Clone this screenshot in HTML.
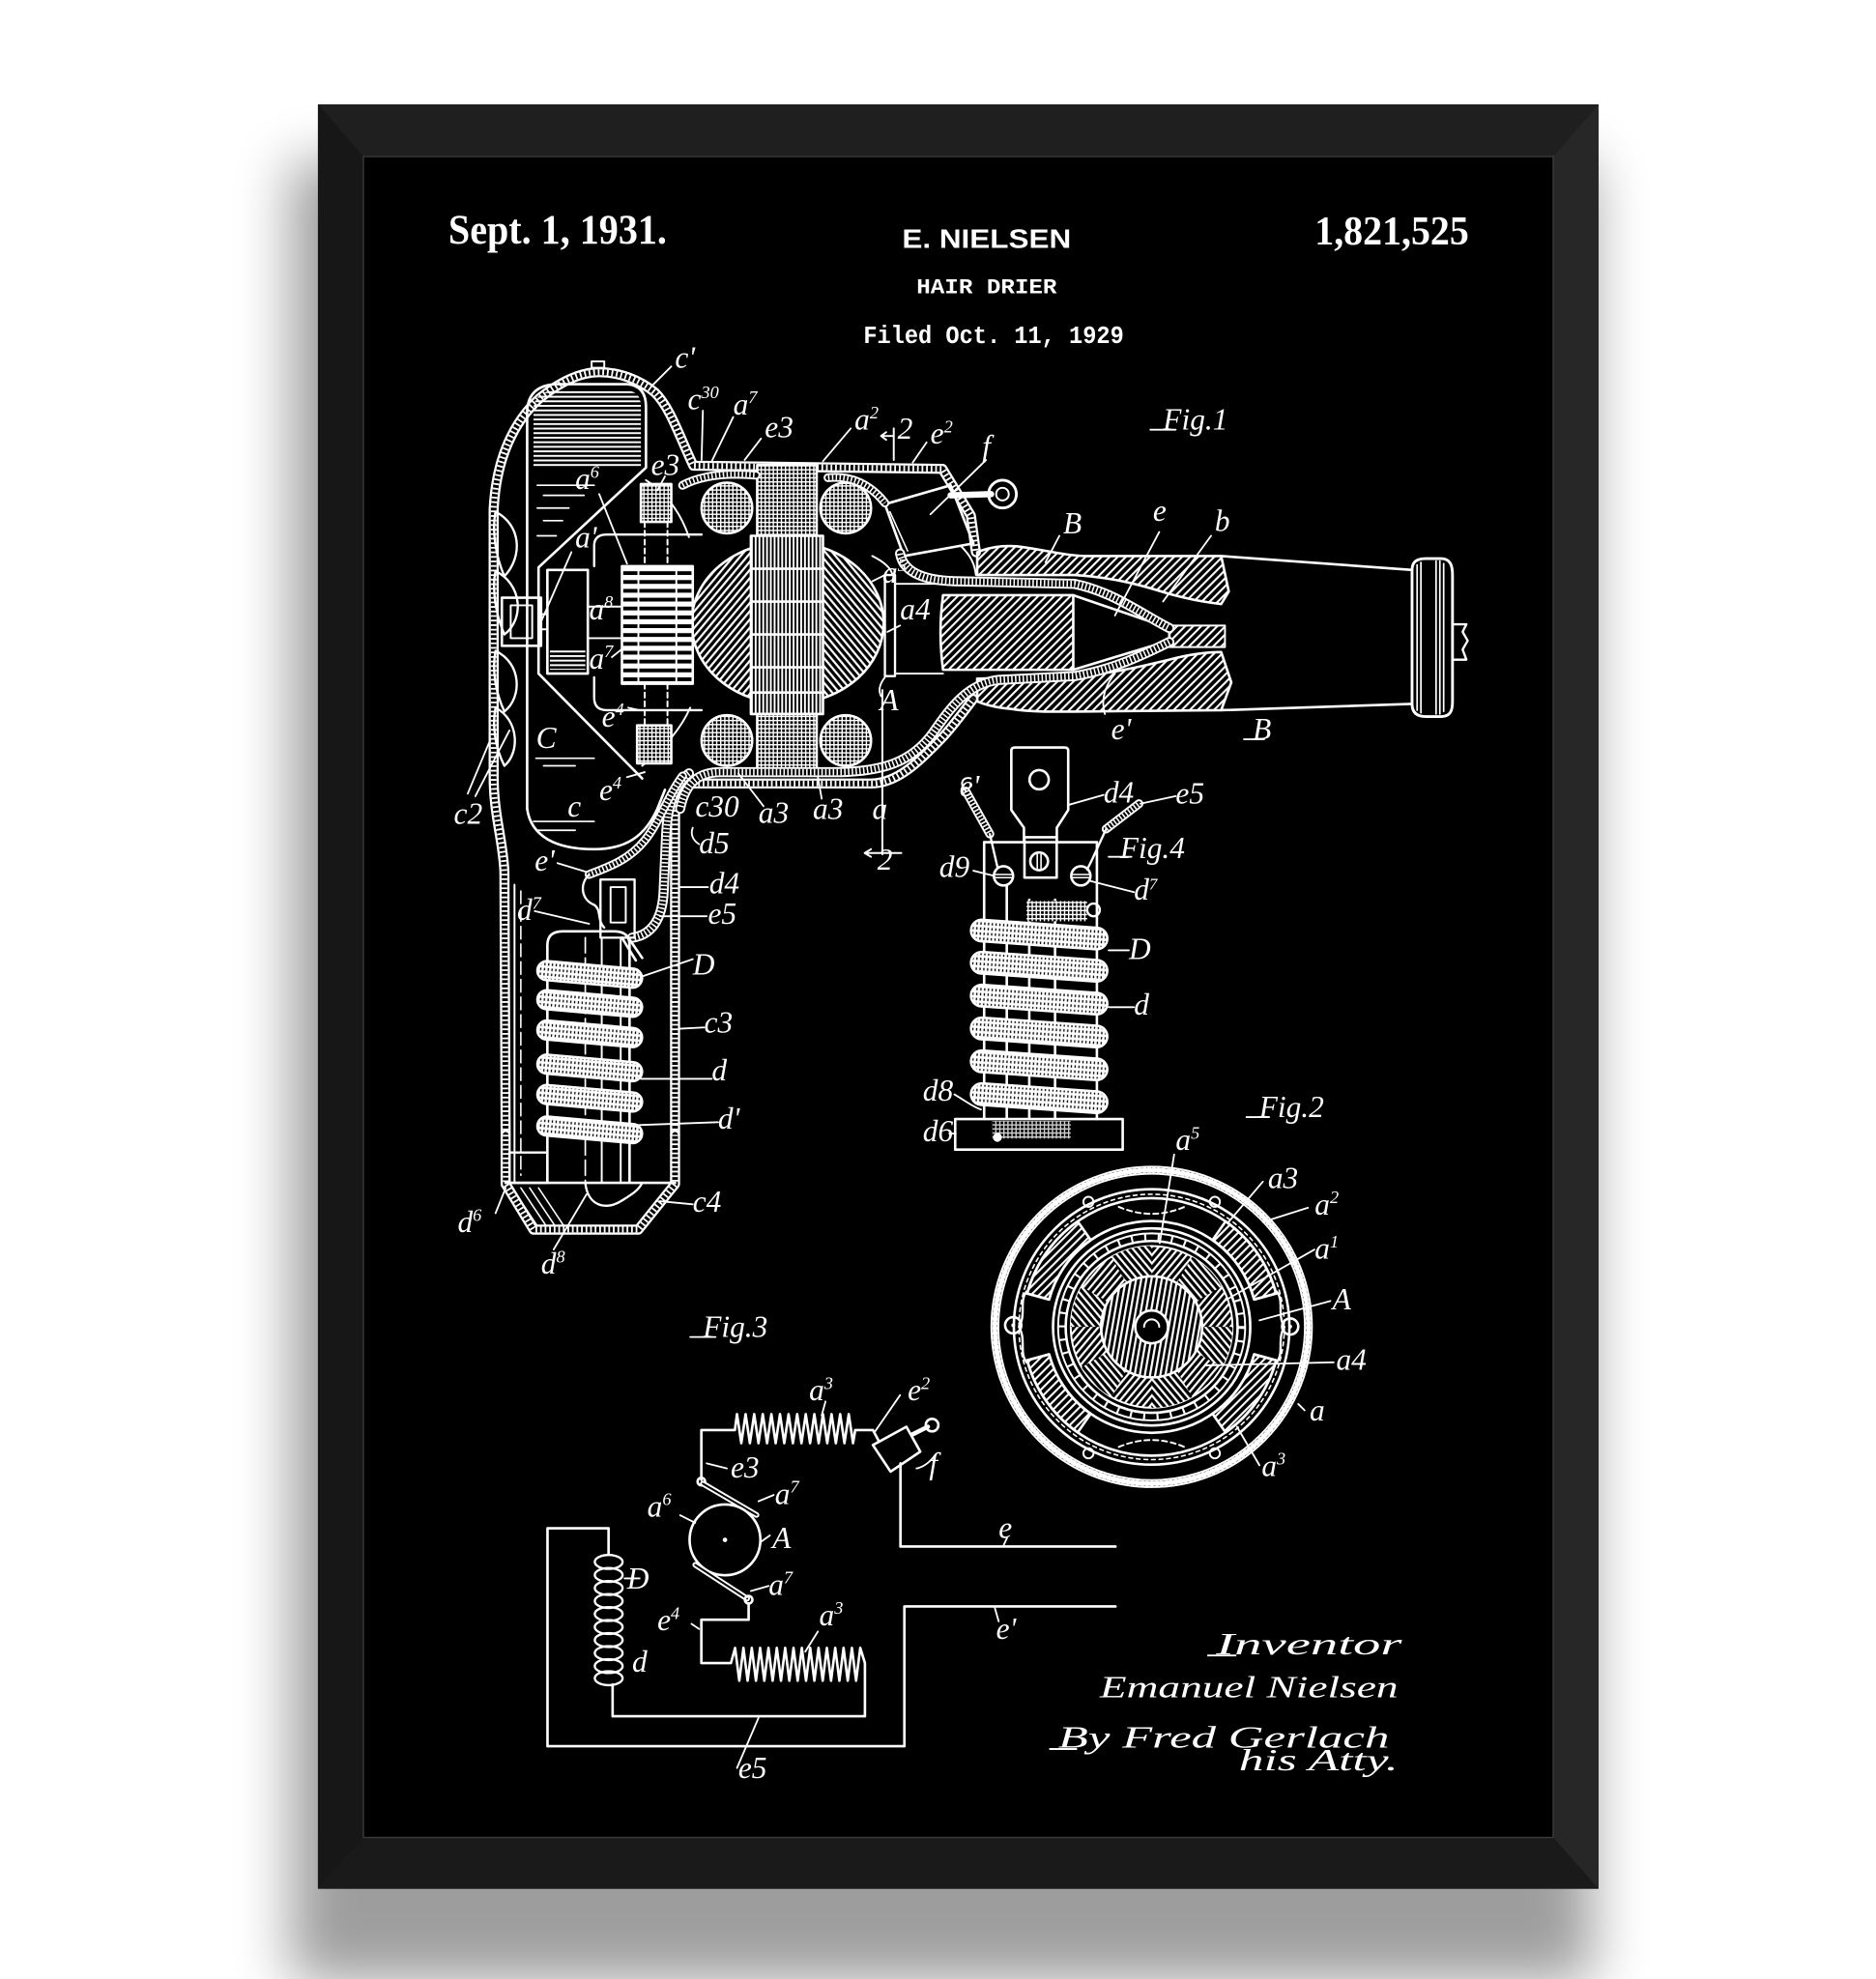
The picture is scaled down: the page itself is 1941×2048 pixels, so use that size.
<!DOCTYPE html>
<html><head><meta charset="utf-8">
<style>
html,body{margin:0;padding:0;background:#fff}
svg{display:block}
.lab text{font-family:"Liberation Serif",serif;font-style:italic;font-size:24px;fill:#fff}
.hd text{fill:#fff}
</style></head>
<body>
<svg width="1941" height="2048" viewBox="0 0 1484 1566" preserveAspectRatio="none" xmlns="http://www.w3.org/2000/svg" xmlns:xlink="http://www.w3.org/1999/xlink">
<defs>
 <filter id="sh" x="-20%" y="-20%" width="140%" height="140%"><feGaussianBlur stdDeviation="22"/></filter>
 <pattern id="hh" width="8" height="3.6" patternUnits="userSpaceOnUse"><rect width="8" height="1.5" fill="#fff"/></pattern>
 <pattern id="hv" width="3" height="8" patternUnits="userSpaceOnUse"><rect width="3" height="8" fill="#000"/><rect width="1.5" height="8" fill="#fff"/></pattern>
 <pattern id="hd" width="4.5" height="4.5" patternUnits="userSpaceOnUse" patternTransform="rotate(45)"><rect width="1.6" height="4.5" fill="#fff"/></pattern>
 <pattern id="hdB" width="4.2" height="4.2" patternUnits="userSpaceOnUse" patternTransform="rotate(40)"><rect width="4.2" height="4.2" fill="#000"/><rect width="1.7" height="4.2" fill="#fff"/></pattern>
 <pattern id="hd2B" width="4.2" height="4.2" patternUnits="userSpaceOnUse" patternTransform="rotate(-40)"><rect width="4.2" height="4.2" fill="#000"/><rect width="1.7" height="4.2" fill="#fff"/></pattern>
 <pattern id="hd3B" width="4" height="4" patternUnits="userSpaceOnUse" patternTransform="rotate(10)"><rect width="4" height="4" fill="#000"/><rect width="1.7" height="4" fill="#fff"/></pattern>
 <pattern id="grid" width="3.2" height="3.2" patternUnits="userSpaceOnUse"><rect width="3.2" height="3.2" fill="#000"/><rect width="3.2" height="1.1" fill="#fff"/><rect width="1.1" height="3.2" fill="#fff"/></pattern>
 <pattern id="coil" width="3" height="4" patternUnits="userSpaceOnUse"><rect width="3" height="4" fill="#fff"/><rect x="1" y="1" width="1" height="2" fill="#000"/></pattern>
 <pattern id="hbar" width="10" height="7" patternUnits="userSpaceOnUse"><rect width="10" height="7" fill="#000"/><rect width="10" height="4" fill="#fff"/></pattern>

 <path id="wE" d="M 712,438 C 715,455 735,460 760,460 L 850,462 C 880,468 905,487 925,497"/>
 <path id="wE1" d="M 925,508 C 905,518 880,530 850,535 L 790,538 C 765,541 752,560 738,580 C 722,602 700,611 660,611 L 570,611 C 552,611 542,620 538,640"/>
 <path id="wA" d="M 545,612 C 532,622 528,640 527,660 L 525,705 C 524,728 515,740 500,742"/>
 <path id="wB" d="M 540,614 C 528,630 522,650 510,665 C 498,680 482,686 466,692"/>
 <path id="wT" d="M 540,384 C 555,376 575,374 598,376"/>
 <path id="wT2" d="M 655,378 C 675,376 690,385 700,398"/>
 <path id="shell" d="M 400,898 L 399,690 C 398,665 390.5,645 390.5,615 L 390.5,403 C 392.5,362 407,333 427,315 C 442,303 458.5,294.5 474,294.5 C 490.5,294.5 506.5,301 518,310.5 C 530,322 538,346.5 548.5,368.5 L 745.5,371 L 768,408 L 772,437"/>
 <path id="shell2" d="M 534,898 L 534,632 Q 534,620 546,620 L 689,620 C 710,620 728,602 746,583 C 756,572 763,562 770,553"/>
 <path id="cap" d="M 400,898 L 400,937 L 422,973 L 505,973 L 534,937 L 534,898"/>
 <path id="w4a" d="M 764,626 L 783,660"/>
 <path id="w4b" d="M 875,656 L 901,636"/>
</defs>

<!-- background & shadow -->
<rect x="0" y="0" width="1484" height="1566" fill="#fff"/>
<rect x="230" y="128" width="1030" height="1440" fill="#000" opacity="0.38" filter="url(#sh)"/>

<!-- frame -->
<rect x="251.5" y="82.6" width="1013" height="1412" fill="#1b1b1b"/>
<polygon points="251.5,82.6 1264.5,82.6 1228.6,123.9 287.5,123.9" fill="#1f1f1f"/>
<polygon points="251.5,82.6 287.5,123.9 287.5,1454 251.5,1494.6" fill="#171717"/>
<polygon points="1264.5,82.6 1264.5,1494.6 1228.6,1454 1228.6,123.9" fill="#272727"/>
<polygon points="251.5,1494.6 1264.5,1494.6 1228.6,1454 287.5,1454" fill="#1a1a1a"/>
<rect x="287.5" y="123.9" width="941.1" height="1330.1" fill="#000" stroke="#3c3c3c" stroke-width="1"/>

<!-- header -->
<g class="hd">
<text x="354.7" y="192.7" font-family="Liberation Serif, serif" font-weight="bold" font-size="33" textLength="172.8" lengthAdjust="spacingAndGlyphs">Sept. 1, 1931.</text>
<text x="1040" y="193.6" font-family="Liberation Serif, serif" font-weight="bold" font-size="32" textLength="122" lengthAdjust="spacingAndGlyphs">1,821,525</text>
<text x="713.6" y="196.2" font-family="Liberation Sans, sans-serif" font-weight="bold" font-size="21.4" textLength="133.7" lengthAdjust="spacingAndGlyphs">E. NIELSEN</text>
<text x="725" y="231.9" font-family="Liberation Mono, monospace" font-weight="bold" font-size="17" textLength="111" lengthAdjust="spacingAndGlyphs">HAIR DRIER</text>
<text x="683" y="271.4" font-family="Liberation Mono, monospace" font-weight="bold" font-size="19.5" textLength="206" lengthAdjust="spacingAndGlyphs">Filed Oct. 11, 1929</text>
</g>

<!-- ================= FIG 1 ================= -->
<g fill="none" stroke="#fff" stroke-linecap="round" stroke-linejoin="round">
 <use xlink:href="#shell" stroke-width="8"/>
 <use xlink:href="#shell" stroke="#000" stroke-width="4.5"/>
 <use xlink:href="#shell" stroke-width="4.5" stroke-dasharray="1.4 2.2" stroke-linecap="butt"/>
 <use xlink:href="#shell2" stroke-width="8"/>
 <use xlink:href="#shell2" stroke="#000" stroke-width="4.5"/>
 <use xlink:href="#shell2" stroke-width="4.5" stroke-dasharray="1.4 2.2" stroke-linecap="butt"/>
 <use xlink:href="#cap" stroke-width="8"/>
 <use xlink:href="#cap" stroke="#000" stroke-width="4.5"/>
 <use xlink:href="#cap" stroke-width="4.5" stroke-dasharray="1.4 2.2" stroke-linecap="butt"/>
 <rect x="468" y="286" width="10" height="5" stroke-width="1.5"/>

 <g stroke-width="1.8">
  <path d="M 392,405 C 412,415 414,440 399,456 C 392,440 389,420 392,405 Z"/>
  <path d="M 392,452 C 413,462 415,490 399,502 C 392,486 389,466 392,452 Z"/>
  <path d="M 392,515 C 413,525 413,552 399,563 C 392,548 389,530 392,515 Z"/>
  <path d="M 392,560 C 411,570 411,596 399,606 C 392,592 389,575 392,560 Z"/>
 </g>
 <rect x="397" y="473" width="31" height="38" stroke-width="2"/>
 <rect x="404" y="479" width="17" height="26" stroke-width="1.5"/>
 <line x1="428" y1="486" x2="433" y2="486" stroke-width="1.5"/>
 <line x1="428" y1="498" x2="433" y2="498" stroke-width="1.5"/>

 <path d="M 422,370 L 422,322 Q 424,309 440,309 L 495,309 Q 507,309 507,322 L 507,370 Z" fill="url(#hh)" stroke="none"/>
 <path d="M 417,640 L 417,325 Q 418,305 440,304 L 496,304 Q 511,305 511,322 L 511,370 L 426,449 L 426,533 L 508,616" stroke-width="2"/>
 <path d="M 417,640 C 420,662 440,672 470,672 C 495,672 510,662 520,640 L 526,625" stroke-width="2"/>
 <g stroke-width="1.3">
  <line x1="425" y1="384" x2="470" y2="384"/><line x1="430" y1="392" x2="462" y2="392"/>
  <line x1="425" y1="402" x2="450" y2="402"/><line x1="430" y1="412" x2="445" y2="412"/>
  <line x1="425" y1="424" x2="440" y2="424"/>
  <line x1="424" y1="600" x2="470" y2="600"/><line x1="430" y1="606" x2="455" y2="606"/>
  <line x1="422" y1="650" x2="470" y2="650"/><line x1="425" y1="657" x2="455" y2="657"/>
 </g>

 <rect x="433" y="451" width="32" height="82" stroke-width="2"/>
 <rect x="435" y="514" width="28" height="16" fill="url(#hh)" stroke="none"/>
 <line x1="465" y1="480" x2="492" y2="480" stroke-width="1.5"/>
 <line x1="465" y1="505" x2="492" y2="505" stroke-width="1.5"/>
 <path d="M 470,448 L 470,432 Q 470,423 480,423 L 555,423" stroke-width="1.8"/>
 <path d="M 470,536 L 470,552 Q 470,562 480,562 L 555,562" stroke-width="1.8"/>
 <path d="M 511,380 C 530,392 540,410 545,425" stroke-width="1.5"/>
 <path d="M 508,606 C 525,592 538,578 546,560" stroke-width="1.5"/>

 <path d="M 623,429 A 76 64 0 0 0 623,557 Z" fill="url(#hdB)" stroke-width="2"/>
 <path d="M 623,429 A 76 64 0 0 1 623,557 Z" fill="url(#hd2B)" stroke-width="2"/>

 <rect x="492" y="448" width="56" height="93" fill="url(#hbar)" stroke-width="2"/>
 <line x1="505" y1="448" x2="505" y2="541" stroke-width="1.5"/>
 <line x1="535" y1="448" x2="535" y2="541" stroke-width="1.5"/>

 <rect x="507" y="383" width="24" height="30" fill="url(#grid)" stroke-width="2"/>
 <rect x="504" y="574" width="27" height="30" fill="url(#grid)" stroke-width="2"/>
 <line x1="510" y1="413" x2="510" y2="448" stroke-width="1.5" stroke-dasharray="4 3"/>
 <line x1="528" y1="413" x2="528" y2="448" stroke-width="1.5" stroke-dasharray="4 3"/>
 <line x1="510" y1="541" x2="510" y2="574" stroke-width="1.5" stroke-dasharray="4 3"/>
 <line x1="528" y1="541" x2="528" y2="574" stroke-width="1.5" stroke-dasharray="4 3"/>

 <rect x="599" y="368" width="47" height="56" fill="url(#grid)" stroke-width="2"/>
 <rect x="594" y="424" width="57" height="141" fill="url(#hv)" stroke-width="2"/>
 <rect x="599" y="565" width="47" height="47" fill="url(#grid)" stroke-width="2"/>
 <g stroke-width="2">
  <line x1="594" y1="450" x2="651" y2="450"/><line x1="594" y1="476" x2="651" y2="476"/>
  <line x1="594" y1="502" x2="651" y2="502"/><line x1="594" y1="528" x2="651" y2="528"/>
  <line x1="594" y1="548" x2="651" y2="548"/>
 </g>
 <circle cx="575" cy="402" r="20" fill="url(#grid)" stroke-width="2"/>
 <circle cx="669" cy="402" r="20" fill="url(#grid)" stroke-width="2"/>
 <circle cx="575" cy="586" r="20" fill="url(#grid)" stroke-width="2"/>
 <circle cx="669" cy="586" r="20" fill="url(#grid)" stroke-width="2"/>

 <rect x="700" y="455" width="8" height="80" stroke-width="1.8"/>
 <line x1="708" y1="462" x2="746" y2="462" stroke-width="1.5"/>
 <line x1="708" y1="533" x2="746" y2="533" stroke-width="1.5"/>
 <path d="M 690,440 C 700,445 705,450 706,455" stroke-width="1.5"/>
 <path d="M 746,471 L 849,471 L 849,530 L 746,530 Q 742,500 746,471 Z" fill="url(#hd)" stroke-width="2"/>
 <path d="M 849,471 L 925,497 L 925,507 L 849,530" stroke-width="2"/>
 <rect x="925" y="495" width="44" height="17" fill="url(#hd)" stroke-width="1.5"/>

 <path d="M 773,437 C 785,432 797,431 810,433 C 830,436 845,440 860,440 L 966,440 L 972,468 L 966,478 C 950,476 940,474 925,470 C 900,462 880,457 850,455 L 773,455 Z" fill="url(#hd)" stroke-width="2"/>
 <path d="M 773,537 L 850,535 C 880,533 900,528 925,522 C 940,518 955,516 966,516 L 974,540 L 966,562 L 860,563 C 840,563 820,564 800,561 C 788,560 780,558 773,555 Z" fill="url(#hd)" stroke-width="2"/>
 <path d="M 966,440 L 1117,451" stroke-width="2"/>
 <path d="M 966,562 L 1117,557" stroke-width="2"/>
 <path d="M 1117,451 C 1117,445 1120,442 1128,442 L 1140,442 C 1147,442 1149,447 1149,455 L 1149,555 C 1149,563 1147,567 1140,567 L 1128,567 C 1120,567 1117,563 1117,557 Z" stroke-width="2.2"/>
 <g stroke-width="1.3"><line x1="1121" y1="447" x2="1121" y2="562"/><line x1="1124" y1="445" x2="1124" y2="564"/><line x1="1136" y1="444" x2="1136" y2="565"/><line x1="1139" y1="444" x2="1139" y2="565"/><line x1="1142" y1="446" x2="1142" y2="563"/></g>
 <path d="M 1149,494 L 1160,494 L 1157,500 L 1161,507 L 1157,514 L 1160,522 L 1149,522" stroke-width="1.8"/>

 <path d="M 700,399 L 752,384 L 770,430 L 715,440 Z" stroke-width="2"/>
 <path d="M 704,405 L 718,436" stroke-width="1.2"/>
 <line x1="752" y1="392" x2="784" y2="391" stroke-width="5"/>
 <circle cx="793" cy="391" r="11" stroke-width="2.2"/>
 <circle cx="793" cy="391" r="5" stroke-width="1.5"/>
 <path d="M 760,432 C 768,440 771,446 772,455" stroke-width="1.5"/>

 <use xlink:href="#wE" stroke-width="8"/><use xlink:href="#wE" stroke="#000" stroke-width="5"/><use xlink:href="#wE" stroke-width="5" stroke-dasharray="1.2 1.8" stroke-linecap="butt"/>
 <use xlink:href="#wE1" stroke-width="8"/><use xlink:href="#wE1" stroke="#000" stroke-width="5"/><use xlink:href="#wE1" stroke-width="5" stroke-dasharray="1.2 1.8" stroke-linecap="butt"/>
 <use xlink:href="#wA" stroke-width="8"/><use xlink:href="#wA" stroke="#000" stroke-width="5"/><use xlink:href="#wA" stroke-width="5" stroke-dasharray="1.2 1.8" stroke-linecap="butt"/>
 <use xlink:href="#wB" stroke-width="7"/><use xlink:href="#wB" stroke="#000" stroke-width="4"/><use xlink:href="#wB" stroke-width="4" stroke-dasharray="1.2 1.8" stroke-linecap="butt"/>
 <use xlink:href="#wT" stroke-width="7"/><use xlink:href="#wT" stroke="#000" stroke-width="4"/><use xlink:href="#wT" stroke-width="4" stroke-dasharray="1.2 1.8" stroke-linecap="butt"/>
 <use xlink:href="#wT2" stroke-width="7"/><use xlink:href="#wT2" stroke="#000" stroke-width="4"/><use xlink:href="#wT2" stroke-width="4" stroke-dasharray="1.2 1.8" stroke-linecap="butt"/>

 <line x1="407" y1="700" x2="407" y2="935" stroke-width="1.5"/>
 <line x1="412" y1="705" x2="412" y2="930" stroke-width="1.2" stroke-dasharray="10 4"/>
 <line x1="400" y1="936" x2="534" y2="936" stroke-width="2"/>
 <rect x="403" y="912" width="30" height="24" stroke-width="1.8"/>
 <path d="M 405,940 L 425,970 M 412,940 L 432,970 M 419,940 L 439,970 M 426,940 L 446,970" stroke-width="1.2"/>
 <path d="M 433,935 L 433,748 Q 433,737 445,737 L 486,737 Q 498,737 498,748 L 498,935" stroke-width="2"/>
 <line x1="463" y1="742" x2="463" y2="935" stroke-width="1.3" stroke-dasharray="12 4"/>
 <line x1="476" y1="742" x2="476" y2="935" stroke-width="1.5"/>
 <line x1="491" y1="742" x2="491" y2="935" stroke-width="1.5"/>
 <path d="M 463,936 C 465,955 480,958 492,950 C 500,945 505,942 508,936" stroke-width="1.8"/>
 <rect x="475" y="696" width="27" height="46" stroke-width="1.8"/>
 <rect x="483" y="702" width="12" height="28" stroke-width="1.5"/>
 <path d="M 466,692 C 458,700 460,712 470,716 C 476,720 472,728 478,734" stroke-width="1.8"/>
 <path d="M 492,742 L 503,760 M 497,742 L 508,758" stroke-width="2"/>

 <g fill="url(#coil)" stroke-width="2">
  <rect x="425" y="763.5" width="83" height="15" rx="7.5" transform="rotate(5 466 771)"/>
  <rect x="425" y="786.5" width="83" height="15" rx="7.5" transform="rotate(5 466 794)"/>
  <rect x="425" y="810.5" width="83" height="15" rx="7.5" transform="rotate(5 466 818)"/>
  <rect x="425" y="837.5" width="83" height="15" rx="7.5" transform="rotate(5 466 845)"/>
  <rect x="425" y="861.5" width="83" height="15" rx="7.5" transform="rotate(5 466 869)"/>
  <rect x="425" y="886.5" width="83" height="15" rx="7.5" transform="rotate(5 466 894)"/>
 </g>

 <line x1="707" y1="339" x2="707" y2="364" stroke-width="1.5"/>
 <path d="M 707,345 L 697,345 M 697,345 L 701,342 M 697,345 L 701,348" stroke-width="1.5"/>
 <line x1="698" y1="546" x2="698" y2="676" stroke-width="1.5"/>
 <path d="M 684,675 L 713,675 M 684,675 L 689,672 M 684,675 L 689,678" stroke-width="1.5"/>

 <g stroke-width="1.4">
  <path d="M 531,290 L 515,306"/><path d="M 556,325 L 555,364"/><path d="M 580,330 L 563,365"/>
  <path d="M 602,347 L 589,364"/><path d="M 673,339 L 651,365"/><path d="M 733,350 L 722,366"/>
  <path d="M 780,364 L 736,407"/><path d="M 526,377 L 520,388"/><path d="M 474,391 L 496,446"/>
  <path d="M 452,437 L 428,492"/><path d="M 484,520 L 494,512"/>
  <path d="M 838,424 L 827,445"/><path d="M 917,421 L 882,487"/><path d="M 958,424 L 920,476"/>
  <path d="M 874,565 C 870,552 876,540 882,533"/><path d="M 984,585 L 1000,585"/>
  <path d="M 370,628 L 388,585"/><path d="M 376,630 L 403,578"/>
  <path d="M 604,638 L 584,612"/><path d="M 650,632 L 647,615"/>
  <path d="M 700,455 L 690,460"/><path d="M 712,495 L 702,500"/>
  <path d="M 697,551 C 694,545 697,540 700,536"/>
  <path d="M 496,615 L 510,611"/><path d="M 497,560 L 506,562"/>
  <path d="M 553,668 C 548,665 546,660 548,655"/>
  <path d="M 548,759 L 507,773"/><path d="M 557,813 L 538,814"/><path d="M 563,853.7 L 507,853.7"/>
  <path d="M 568,888 L 497,890.6"/><path d="M 548,953 L 522,950.5"/><path d="M 392,960 L 400,940"/>
  <path d="M 438,988.7 L 464,945"/><path d="M 559,725 L 522,725"/><path d="M 560,702 L 537,702"/>
  <path d="M 423,721 L 466,731"/><path d="M 441,683 L 464,690"/>
  <path d="M 910,340 L 930,340"/>
 </g>
</g>

<g class="lab">
 <text x="534" y="291">c'</text>
 <text x="544" y="324">c<tspan font-size="14" dy="-9">30</tspan></text>
 <text x="580" y="328">a<tspan font-size="14" dy="-9">7</tspan></text>
 <text x="605" y="346">e3</text>
 <text x="676" y="340">a<tspan font-size="14" dy="-9">2</tspan></text>
 <text x="710" y="347" font-size="13">2</text>
 <text x="736" y="351">e<tspan font-size="14" dy="-9">2</tspan></text>
 <text x="777" y="361" font-size="28">f</text>
 <text x="515" y="376">e3</text>
 <text x="455" y="387">a<tspan font-size="14" dy="-9">6</tspan></text>
 <text x="455" y="433">a'</text>
 <text x="466" y="490">a<tspan font-size="14" dy="-9">8</tspan></text>
 <text x="466" y="529">a<tspan font-size="14" dy="-9">7</tspan></text>
 <text x="476" y="575">e<tspan font-size="14" dy="-9">4</tspan></text>
 <text x="424" y="592" font-size="30">C</text>
 <text x="474" y="633">e<tspan font-size="14" dy="-9">4</tspan></text>
 <text x="449" y="646">c</text>
 <text x="359" y="652">c2</text>
 <text x="550" y="646">c30</text>
 <text x="600" y="651">a3</text>
 <text x="643" y="648">a3</text>
 <text x="690" y="648">a</text>
 <text x="694" y="688" font-size="13">2</text>
 <text x="698" y="461">a<tspan font-size="14" dy="-9">5</tspan></text>
 <text x="712" y="490">a4</text>
 <text x="696" y="562">A</text>
 <text x="841" y="422" font-size="26">B</text>
 <text x="912" y="412">e</text>
 <text x="961" y="420">b</text>
 <text x="879" y="585">e'</text>
 <text x="991" y="585" font-size="26">B</text>
 <text x="920" y="340" font-size="36">Fig.1</text>
 <text x="423" y="689">e'</text>
 <text x="409" y="728">d<tspan font-size="14" dy="-9">7</tspan></text>
 <text x="553" y="675">d5</text>
 <text x="561" y="707">d4</text>
 <text x="560" y="731">e5</text>
 <text x="548" y="771" font-size="26">D</text>
 <text x="557" y="817">c3</text>
 <text x="563" y="855">d</text>
 <text x="568" y="893">d'</text>
 <text x="548" y="959">c4</text>
 <text x="362" y="975">d<tspan font-size="14" dy="-9">6</tspan></text>
 <text x="428" y="1008">d<tspan font-size="14" dy="-9">8</tspan></text>
</g>

<!-- ================= FIG 4 ================= -->
<g fill="none" stroke="#fff" stroke-linecap="round" stroke-linejoin="round">
 <path d="M 810,666 L 810,655 L 800,641 L 800,594 Q 800,591.5 803,591.5 L 842,591.5 Q 845,591.5 845,594 L 845,641 L 836,655 L 836,666" stroke-width="2"/>
 <circle cx="822" cy="617" r="7.6" stroke-width="2"/>
 <line x1="778.5" y1="666.4" x2="867.7" y2="666.4" stroke-width="2"/>
 <line x1="778.5" y1="666.4" x2="778.5" y2="885.5" stroke-width="2"/>
 <line x1="867.7" y1="666.4" x2="867.7" y2="885.5" stroke-width="2"/>
 <rect x="810.4" y="662.5" width="25.5" height="31.9" stroke-width="2"/>
 <circle cx="822" cy="681.6" r="7" stroke-width="2"/>
 <line x1="820.5" y1="676" x2="820.5" y2="687" stroke-width="1.2"/><line x1="823.5" y1="676" x2="823.5" y2="687" stroke-width="1.2"/>
 <circle cx="793.8" cy="693.1" r="7.6" stroke-width="2"/>
 <line x1="787" y1="692" x2="800.6" y2="692" stroke-width="1.2"/><line x1="787" y1="694.5" x2="800.6" y2="694.5" stroke-width="1.2"/>
 <circle cx="855" cy="693.1" r="7.6" stroke-width="2"/>
 <line x1="848" y1="692" x2="862" y2="692" stroke-width="1.2"/><line x1="848" y1="694.5" x2="862" y2="694.5" stroke-width="1.2"/>
 <line x1="796.4" y1="701" x2="796.4" y2="885" stroke-width="2"/>
 <line x1="814.2" y1="712" x2="814.2" y2="885" stroke-width="2"/>
 <line x1="834.6" y1="712" x2="834.6" y2="885" stroke-width="2"/>
 <rect x="812" y="713" width="48" height="16" fill="url(#grid)" stroke="none"/>
 <circle cx="865" cy="720" r="5" stroke-width="1.8"/>
 <use xlink:href="#w4a" stroke-width="7"/><use xlink:href="#w4a" stroke="#000" stroke-width="4"/><use xlink:href="#w4a" stroke-width="4" stroke-dasharray="1.2 1.6" stroke-linecap="butt"/>
 <use xlink:href="#w4b" stroke-width="7"/><use xlink:href="#w4b" stroke="#000" stroke-width="4"/><use xlink:href="#w4b" stroke-width="4" stroke-dasharray="1.2 1.6" stroke-linecap="butt"/>
 <path d="M 783,660 L 789,686" stroke-width="1.8"/>
 <path d="M 875,656 L 864,680 L 860,688" stroke-width="1.8"/>
 <path d="M 764,626 C 758,620 762,614 768,616" stroke-width="1.5"/>
 <g fill="url(#coil)" stroke-width="2">
  <rect x="768" y="731" width="108" height="17" rx="8.5" transform="rotate(4 822 740)"/>
  <rect x="768" y="756.5" width="108" height="17" rx="8.5" transform="rotate(4 822 765)"/>
  <rect x="768" y="782.5" width="108" height="17" rx="8.5" transform="rotate(4 822 791)"/>
  <rect x="768" y="808.5" width="108" height="17" rx="8.5" transform="rotate(4 822 817)"/>
  <rect x="768" y="834.5" width="108" height="17" rx="8.5" transform="rotate(4 822 843)"/>
  <rect x="768" y="860.5" width="108" height="17" rx="8.5" transform="rotate(4 822 869)"/>
 </g>
 <rect x="755.6" y="885.5" width="132.5" height="24.2" stroke-width="2"/>
 <rect x="785" y="887" width="62" height="14" fill="url(#grid)" stroke="none" opacity="0.8"/>
 <circle cx="789" cy="900" r="3" fill="#fff"/>
 <g stroke-width="1.4">
  <path d="M 873,629 L 845,637"/><path d="M 930,630 L 902,636"/><path d="M 770,689 L 786,693"/>
  <path d="M 897,706 L 862,697"/><path d="M 893,752 L 877,752"/><path d="M 897,797 L 877,797"/>
  <path d="M 755,866 C 765,872 770,876 776,878"/><path d="M 751,897 L 756,897"/>
  <path d="M 877,678 L 895,678"/>
 </g>
</g>
<g class="lab">
 <text x="759" y="630" font-size="22">e'</text>
 <text x="873" y="635" font-size="22">d4</text>
 <text x="930" y="636" font-size="22">e5</text>
 <text x="886" y="679" font-size="34">Fig.4</text>
 <text x="743" y="694" font-size="22">d9</text>
 <text x="897" y="712" font-size="22">d<tspan font-size="13" dy="-8">7</tspan></text>
 <text x="893" y="759" font-size="26">D</text>
 <text x="897" y="803">d</text>
 <text x="730" y="871" font-size="22">d8</text>
 <text x="730" y="903" font-size="22">d6</text>
</g>

<!-- ================= FIG 2 ================= -->
<g fill="none" stroke="#fff" stroke-linecap="round" stroke-linejoin="round">
 <circle cx="911" cy="1050" r="124" stroke-width="7"/>
 <circle cx="911" cy="1050" r="124" stroke="#000" stroke-width="4"/>
 <circle cx="911" cy="1050" r="124" stroke-width="4" stroke-dasharray="1.4 2.4"/>
 <circle cx="911" cy="1050" r="109" stroke-width="2"/>
 <circle cx="911" cy="1050" r="105" stroke-width="1.2" stroke-dasharray="3 3"/>
 <path d="M 812.5,1023.6 A 102 102 0 0 1 1009.5,1023.6 L 992.1,1028.3 A 84 84 0 0 0 829.9,1028.3 Z" stroke-width="2"/>
 <path d="M 1009.5,1076.4 A 102 102 0 0 1 812.5,1076.4 L 829.9,1071.7 A 84 84 0 0 0 992.1,1071.7 Z" stroke-width="2"/>
 <path d="M 812.5,1023.6 A 102 102 0 0 1 852.5,966.5 L 862.8,981.2 A 84 84 0 0 0 829.9,1028.3 Z" fill="url(#hd)" stroke-width="2"/>
 <path d="M 969.5,966.5 A 102 102 0 0 1 1009.5,1023.6 L 992.1,1028.3 A 84 84 0 0 0 959.2,981.2 Z" fill="url(#hd)" stroke-width="2"/>
 <path d="M 1009.5,1076.4 A 102 102 0 0 1 969.5,1133.5 L 959.2,1118.8 A 84 84 0 0 0 992.1,1071.7 Z" fill="url(#hd)" stroke-width="2"/>
 <path d="M 852.5,1133.5 A 102 102 0 0 1 812.5,1076.4 L 829.9,1071.7 A 84 84 0 0 0 862.8,1118.8 Z" fill="url(#hd)" stroke-width="2"/>
 <path d="M 885,955 Q 911,966 937,955" stroke-width="1.5" stroke-dasharray="4 3"/>
 <path d="M 885,1145 Q 911,1134 937,1145" stroke-width="1.5" stroke-dasharray="4 3"/>
 <circle cx="861" cy="951" r="4" stroke-width="1.5"/><circle cx="961" cy="951" r="4" stroke-width="1.5"/>
 <circle cx="861" cy="1150" r="4" stroke-width="1.5"/><circle cx="961" cy="1150" r="4" stroke-width="1.5"/>
 <path d="M 812,1022 C 806,1030 812,1040 806,1050 C 812,1060 806,1070 812,1078" stroke-width="1.8"/>
 <path d="M 1010,1022 C 1016,1030 1010,1040 1016,1050 C 1010,1060 1016,1070 1010,1078" stroke-width="1.8"/>
 <circle cx="801.5" cy="1048.7" r="6.4" stroke-width="2"/><circle cx="801.5" cy="1048.7" r="1" fill="#fff"/>
 <circle cx="1020.6" cy="1049.7" r="6.4" stroke-width="2"/><circle cx="1020.6" cy="1049.7" r="1" fill="#fff"/>
 <circle cx="911" cy="1050" r="78" stroke-width="2"/>
 <circle cx="911" cy="1050" r="71" stroke-width="6" stroke-dasharray="1.6 9" stroke-linecap="butt"/>
 <circle cx="911" cy="1050" r="74" stroke-width="1.5"/>
 <circle cx="911" cy="1050" r="68" stroke-width="2"/>
 <circle cx="911" cy="1050" r="64" fill="url(#hdB)" stroke-width="1.5"/>
 <path d="M911,1050 L975,1050 A64 64 0 0 1 966.4,1082 Z M911,1050 L943,1105.4 A64 64 0 0 1 911,1114 Z M911,1050 L879,1105.4 A64 64 0 0 1 855.6,1082 Z M911,1050 L847,1050 A64 64 0 0 1 855.6,1018 Z M911,1050 L879,994.6 A64 64 0 0 1 911,986 Z M911,1050 L943,994.6 A64 64 0 0 1 966.4,1018 Z" fill="url(#hd2B)" stroke="none"/>
 <circle cx="911" cy="1050" r="40" fill="url(#hd3B)" stroke-width="2"/>
 <circle cx="911" cy="1050" r="13" fill="#000" stroke-width="2"/>
 <path d="M 905,1050 A 6 6 0 1 1 917,1050" stroke-width="1.5"/>
 <g stroke-width="1.4">
  <path d="M 928.8,913.6 L 917.4,983.7"/><path d="M 999,935 L 971,968"/><path d="M 1034.6,955.7 L 999,967"/>
  <path d="M 1039.7,988.8 L 968.3,1029.5"/><path d="M 1052.4,1029.5 L 996.3,1044.8"/>
  <path d="M 1055,1078 L 953,1080.5"/><path d="M 1032,1116 L 1027,1111"/><path d="M 996.3,1159.5 L 978.5,1129"/>
  <path d="M 986,884 L 1004,884"/>
 </g>
</g>
<g class="lab">
 <text x="996" y="884" font-size="34">Fig.2</text>
 <text x="930" y="910">a<tspan font-size="14" dy="-9">5</tspan></text>
 <text x="1003" y="940">a3</text>
 <text x="1040" y="961">a<tspan font-size="14" dy="-9">2</tspan></text>
 <text x="1040" y="996">a<tspan font-size="14" dy="-9">1</tspan></text>
 <text x="1054" y="1036">A</text>
 <text x="1057" y="1084">a4</text>
 <text x="1036" y="1124">a</text>
 <text x="998" y="1168">a<tspan font-size="14" dy="-9">3</tspan></text>
</g>

<!-- ================= FIG 3 ================= -->
<g fill="none" stroke="#fff" stroke-width="2" stroke-linecap="round" stroke-linejoin="round">
 <polyline points="554.8,1171 554.8,1131.6 581.3,1131.6 583,1119 586.4,1142 589.8,1119 593.2,1142 596.6,1119 600,1142 603.4,1119 606.8,1142 610.2,1119 613.6,1142 617,1119 620.4,1142 623.8,1119 627.2,1142 630.6,1119 634,1142 637.4,1119 640.8,1142 644.2,1119 647.6,1142 651,1119 654.4,1142 657.8,1119 661.2,1142 664.6,1119 668,1142 671.4,1119 674.8,1142 676.5,1131.6 690.5,1131.6 695,1140"/>
 <path d="M 690.5,1143.5 L 717,1129 L 728,1148.7 L 704.5,1164.5 Z"/>
 <line x1="722" y1="1135" x2="734" y2="1129" stroke-width="3.5"/>
 <circle cx="737.3" cy="1127.7" r="5"/>
 <polyline points="712.3,1158 712.3,1223.8 882.4,1223.8"/>
 <circle cx="554.8" cy="1172.4" r="3"/>
 <line x1="556" y1="1174" x2="598.4" y2="1198.8" stroke-width="4.5"/>
 <line x1="556" y1="1174" x2="598.4" y2="1198.8" stroke="#000" stroke-width="1.5"/>
 <circle cx="573.5" cy="1218.5" r="28"/>
 <circle cx="573.5" cy="1218.5" r="0.8" fill="#fff"/>
 <line x1="550" y1="1238.3" x2="591" y2="1265" stroke-width="4.5"/>
 <line x1="550" y1="1238.3" x2="591" y2="1265" stroke="#000" stroke-width="1.5"/>
 <circle cx="592.2" cy="1265.9" r="3"/>
 <polyline points="592.2,1269 592.2,1281.7 554.8,1281.7 554.8,1316 578.2,1316 581.5,1304 584.8,1330 588.1,1304 591.4,1330 594.7,1304 598,1330 601.3,1304 604.6,1330 607.9,1304 611.2,1330 614.5,1304 617.8,1330 621.1,1304 624.4,1330 627.7,1304 631,1330 634.3,1304 637.6,1330 640.9,1304 644.2,1330 647.5,1304 650.8,1330 654.1,1304 657.4,1330 660.7,1304 664,1330 667.3,1304 670.6,1330 673.9,1304 677.2,1330 680.5,1304 684.2,1316 684.2,1358.1 484.6,1358.1 484.6,1333"/>
 <g stroke-width="1.8">
  <ellipse cx="481.5" cy="1236" rx="11" ry="5.5"/><ellipse cx="481.5" cy="1246.3" rx="11" ry="5.5"/>
  <ellipse cx="481.5" cy="1256.6" rx="11" ry="5.5"/><ellipse cx="481.5" cy="1266.9" rx="11" ry="5.5"/>
  <ellipse cx="481.5" cy="1277.2" rx="11" ry="5.5"/><ellipse cx="481.5" cy="1287.5" rx="11" ry="5.5"/>
  <ellipse cx="481.5" cy="1297.8" rx="11" ry="5.5"/><ellipse cx="481.5" cy="1308.1" rx="11" ry="5.5"/>
  <ellipse cx="481.5" cy="1318.4" rx="11" ry="5.5"/><ellipse cx="481.5" cy="1328" rx="11" ry="5.5"/>
 </g>
 <polyline points="481.4,1230 481.4,1209.3 433.1,1209.3 433.1,1381.8 715.4,1381.8 715.4,1271.2 882.4,1271.2"/>
 <g stroke-width="1.4">
  <path d="M 575,1162 L 559,1158"/><path d="M 612,1183 L 600,1188"/><path d="M 538,1199 L 550,1205"/>
  <path d="M 609,1215 L 602,1220"/><path d="M 608,1255 L 594,1259"/><path d="M 547,1285 L 553,1289"/>
  <path d="M 653,1109 L 650,1120"/><path d="M 647,1291 L 637,1307"/><path d="M 712,1104 L 692,1133"/>
  <path d="M 740,1151 C 735,1158 730,1161 725,1162"/><path d="M 506,1249 L 494,1249"/>
  <path d="M 796.6,1217 L 793.4,1223.8"/><path d="M 787,1272.5 L 790,1283"/><path d="M 600,1359.4 L 583,1399"/>
  <path d="M 546,1058 L 566,1058"/>
 </g>
</g>
<g class="lab">
 <text x="556" y="1058" font-size="36">Fig.3</text>
 <text x="640" y="1108">a<tspan font-size="14" dy="-9">3</tspan></text>
 <text x="718" y="1108">e<tspan font-size="14" dy="-9">2</tspan></text>
 <text x="578" y="1169">e3</text>
 <text x="613" y="1190">a<tspan font-size="14" dy="-9">7</tspan></text>
 <text x="512" y="1200">a<tspan font-size="14" dy="-9">6</tspan></text>
 <text x="611" y="1225">A</text>
 <text x="735" y="1166" font-size="28">f</text>
 <text x="790" y="1217">e</text>
 <text x="496" y="1257">D</text>
 <text x="608" y="1262">a<tspan font-size="14" dy="-9">7</tspan></text>
 <text x="520" y="1290">e<tspan font-size="14" dy="-9">4</tspan></text>
 <text x="648" y="1286">a<tspan font-size="14" dy="-9">3</tspan></text>
 <text x="788" y="1297">e'</text>
 <text x="500" y="1323">d</text>
 <text x="584" y="1407">e5</text>
</g>

<!-- signature -->
<g class="lab">
 <text x="962" y="1309" font-size="32" textLength="147" lengthAdjust="spacingAndGlyphs">Inventor</text>
 <text x="870" y="1343" font-size="27" textLength="236" lengthAdjust="spacingAndGlyphs">Emanuel Nielsen</text>
 <text x="837" y="1383" font-size="36" textLength="262" lengthAdjust="spacingAndGlyphs">By Fred Gerlach</text>
 <text x="980" y="1401" font-size="24" textLength="126" lengthAdjust="spacingAndGlyphs">his Atty.</text>
</g>
<g stroke="#fff" stroke-width="1.5" fill="none">
 <path d="M 955,1310 L 978,1310"/><path d="M 830,1384 L 852,1384"/>
</g>
</svg>
</body></html>
